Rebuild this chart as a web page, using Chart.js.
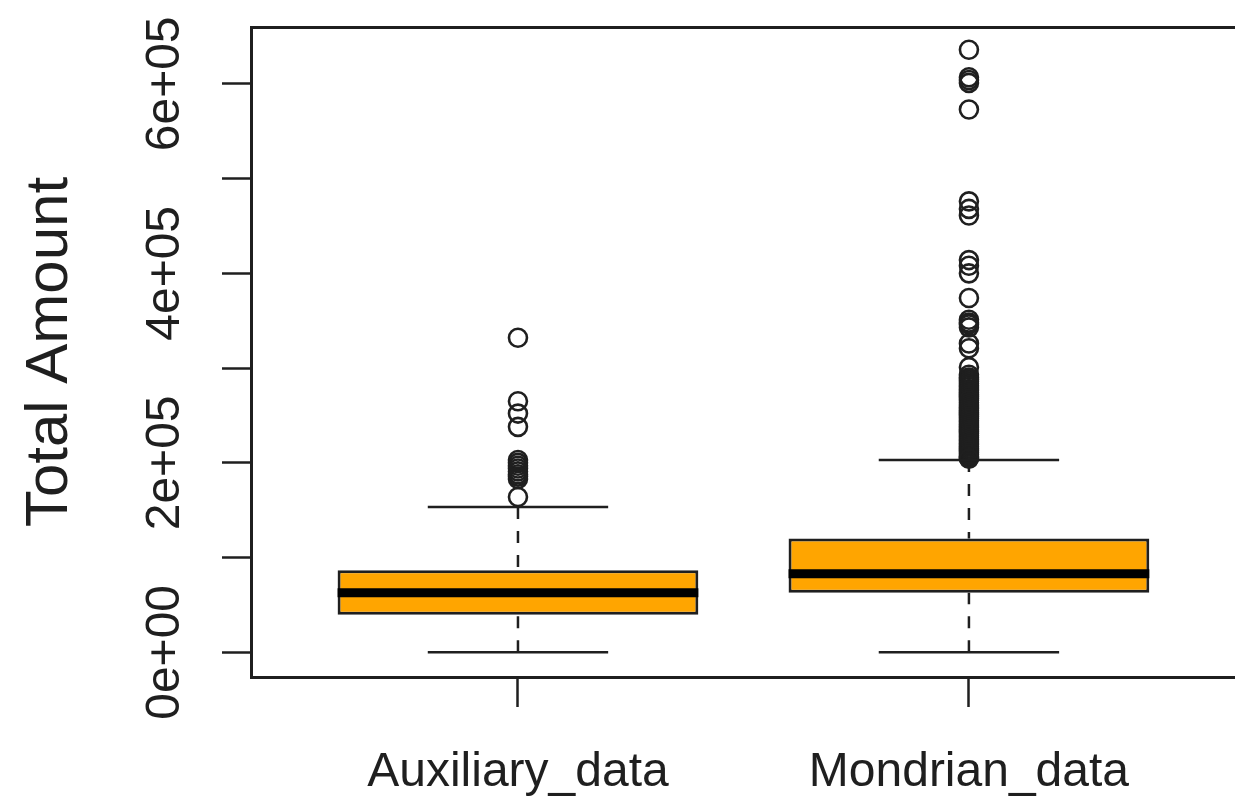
<!DOCTYPE html>
<html>
<head>
<meta charset="utf-8">
<script src="https://cdn.jsdelivr.net/npm/chart.js@4.4.1/dist/chart.umd.min.js"></script>
<style>
  html, body { margin: 0; padding: 0; background: #fff; }
  #wrap { width: 1235px; height: 797px; position: relative; }
</style>
</head>
<body>
<div id="wrap"><canvas id="chart"></canvas></div>
<script>
const categories = ["Auxiliary_data", "Mondrian_data"];
const whiskerLow = [0, 0];
const q1 = [39800, 63000];
const medians = [63000, 83100];
const q3 = [86600, 120100];
const whiskerHigh = [153500, 203000];

const auxiliaryOutliers = [332000, 265000, 252000, 238000, 203000, 200000, 197000,
  194000, 191000, 188000, 185500, 183000, 164000];
const mondrianOutliers = [636000, 607000, 604000, 601000, 573000, 476000, 468000, 461000,
  414000, 408000, 400000, 374000, 351000, 348000, 346000, 343000, 326000, 321000,
  301000, 293000, 290000, 288000, 286000, 284000, 282000, 280000, 278000, 276000,
  274000, 272000, 270000, 268000, 266000, 263500, 261000, 259000, 257000, 255000,
  253000, 251000, 249000, 247000, 245000, 243000, 241000, 239000, 237000, 235000,
  233000, 231000, 229000, 227000, 225000, 223000, 221000, 219000, 217000, 215000,
  213000, 211000, 209000, 207000, 205500, 204500];

const yTicks = [0, 100000, 200000, 300000, 400000, 500000, 600000];
const yTickLabels = ["0e+00", "", "2e+05", "", "4e+05", "", "6e+05"];

const INK = "#1f1f1f";
const FONT = "'Liberation Sans', Arial, sans-serif";
const BOX_WIDTH = 0.8; // category units, same as R boxplot
const CAP_WIDTH = 0.4;

// short line pieces, each one ended with a null point so they don't join
function pieces(list) {
  const out = [];
  list.forEach(([x0, y0, x1, y1]) => {
    out.push({ x: x0, y: y0 }, { x: x1, y: y1 }, { x: x1, y: null });
  });
  return out;
}

const medianLines = pieces(categories.map((c, i) =>
  [i + 1 - BOX_WIDTH / 2, medians[i], i + 1 + BOX_WIDTH / 2, medians[i]]));
const capLines = pieces(categories.flatMap((c, i) => [
  [i + 1 - CAP_WIDTH / 2, whiskerHigh[i], i + 1 + CAP_WIDTH / 2, whiskerHigh[i]],
  [i + 1 - CAP_WIDTH / 2, whiskerLow[i], i + 1 + CAP_WIDTH / 2, whiskerLow[i]],
]));
// drawn from the whisker end toward the box, like R does
const stemLines = pieces(categories.flatMap((c, i) => [
  [i + 1, whiskerHigh[i], i + 1, q3[i]],
  [i + 1, whiskerLow[i], i + 1, q1[i]],
]));
const outlierPoints = [
  ...auxiliaryOutliers.map((v) => ({ x: 1, y: v })),
  ...mondrianOutliers.map((v) => ({ x: 2, y: v })),
];

const lineStyle = {
  type: "line",
  showLine: true,
  pointRadius: 0,
  fill: false,
  tension: 0,
  spanGaps: false,
  borderColor: INK,
  borderCapStyle: "butt",
};

const xMin = 0.408, xMax = 2.59;

new Chart(document.getElementById("chart"), {
  type: "scatter",
  data: {
    datasets: [
      { ...lineStyle, data: medianLines, borderColor: "#000", borderWidth: 9, order: 0 },
      { ...lineStyle, data: capLines, borderWidth: 2.5, order: 1 },
      {
        type: "scatter",
        data: outlierPoints,
        pointStyle: "circle",
        pointRadius: 9,
        pointBorderWidth: 2.6,
        pointBorderColor: INK,
        pointBackgroundColor: "rgba(0,0,0,0)",
        order: 1,
      },
      {
        type: "bar",
        data: categories.map((c, i) => ({ x: i + 1, y: [q1[i], q3[i]] })),
        backgroundColor: "#FFA500",
        borderColor: INK,
        borderWidth: 3,
        borderSkipped: false,
        categoryPercentage: BOX_WIDTH,
        barPercentage: 1,
        order: 2,
      },
      { ...lineStyle, data: stemLines, borderWidth: 2.5, borderDash: [12, 12], order: 3 },
    ],
  },
  options: {
    responsive: true,
    maintainAspectRatio: false,
    animation: false,
    layout: { padding: 0, autoPadding: false },
    plugins: { legend: { display: false }, tooltip: { enabled: false } },
    scales: {
      x: {
        type: "linear",
        position: "bottom",
        min: xMin,
        max: xMax,
        offset: false,
        afterBuildTicks: (s) => { s.ticks = categories.map((c, i) => ({ value: i + 1 })); },
        afterFit: (s) => { s.height = 120; },
        ticks: {
          callback: (v, i) => categories[i],
          autoSkip: false,
          maxRotation: 0,
          padding: 37,
          color: INK,
          font: { family: FONT, size: 48 },
        },
        grid: { offset: false, drawOnChartArea: false, tickLength: 30, tickWidth: 2.5, tickColor: INK },
        border: { color: INK, width: 3 },
      },
      xTop: {
        type: "linear",
        position: "top",
        min: xMin,
        max: xMax,
        afterFit: (s) => { s.height = 27; },
        ticks: { display: false },
        grid: { display: false, drawTicks: false },
        border: { color: INK, width: 3 },
      },
      y: {
        type: "linear",
        min: -26000,
        max: 660000,
        afterBuildTicks: (s) => { s.ticks = yTicks.map((v) => ({ value: v })); },
        afterFit: (s) => { s.width = 251; },
        ticks: {
          callback: (v, i) => yTickLabels[i],
          autoSkip: false,
          minRotation: 90,
          maxRotation: 90,
          crossAlign: "center",
          padding: -11,
          color: INK,
          font: { family: FONT, size: 48 },
        },
        grid: { drawOnChartArea: false, tickLength: 29, tickWidth: 2.5, tickColor: INK },
        border: { color: INK, width: 3 },
        title: {
          display: true,
          text: "Total Amount",
          color: INK,
          font: { family: FONT, size: 60 },
          padding: { top: 14, bottom: 0 },
        },
      },
    },
  },
});
</script>
</body>
</html>
